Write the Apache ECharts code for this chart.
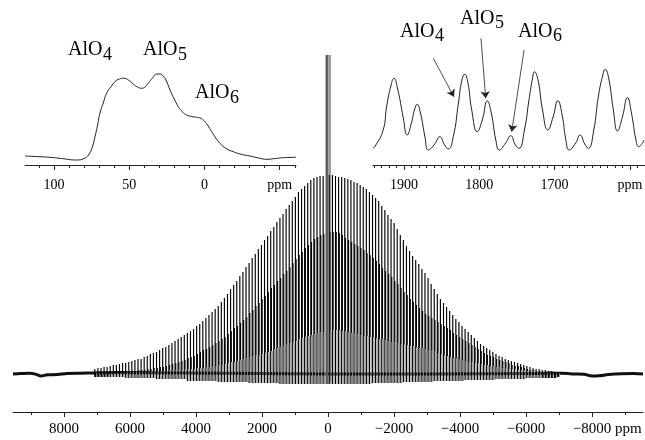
<!DOCTYPE html>
<html><head><meta charset="utf-8">
<script src="https://cdn.jsdelivr.net/npm/echarts@6/dist/echarts.min.js"></script>
<style>html,body{margin:0;padding:0;background:#fff}#c{width:645px;height:440px}</style>
</head><body><div id="c"></div>
<script>
// ---------- main spinning-sideband spectrum ----------
const sidebandSpacingPpm = 93.5;               // spinning rate expressed in ppm
const siteShiftPpm = [53.5, 31.7, 5.0];         // AlO4, AlO5, AlO6
const firstSidebandOrder = 75;                  // order of first (left-most) entry
const alo4Heights = [
  5,6,6,7,7,8,9,9,10,11,
  11,12,13,14,15,15,17,18,20,21,
  22,24,26,27,29,31,33,35,37,39,
  41,43,45,48,50,53,56,59,62,65,
  68,72,76,80,85,89,93,98,102,107,
  111,116,120,125,129,134,138,143,147,152,
  156,160,165,169,173,177,182,185,188,191,
  194,196,197,198,198,319,199,199,198,197,
  197,196,195,194,192,191,189,187,185,182,
  179,176,173,168,164,159,155,151,145,139,
  134,128,123,118,114,110,105,101,96,90,
  85,80,75,71,67,63,59,55,52,48,
  45,42,39,36,33,30,28,26,24,22,
  20,18,17,15,14,13,12,11,10,9,
  8,7,6,5,5,4,4,3,3,2,
  2];
const alo5Heights = [
  1,1,1,1,1,2,2,2,2,2,
  3,3,3,3,4,4,4,5,5,6,
  6,7,7,8,9,10,11,12,13,14,
  16,17,18,20,22,24,25,27,29,31,
  33,35,37,40,43,46,48,51,54,57,
  61,64,68,71,75,78,82,86,89,93,
  96,100,103,107,111,115,119,122,126,129,
  132,135,137,139,140,319,142,142,142,141,
  139,136,134,132,130,128,126,124,121,119,
  116,113,110,106,103,100,97,93,90,86,
  82,79,75,72,69,66,63,60,58,56,
  54,52,50,48,46,44,41,39,37,35,
  33,31,29,27,25,23,21,19,18,17,
  15,14,13,12,11,9,8,8,7,6,
  5,4,4,3,3,2,2,2,1,1,
  1];
const alo6Heights = [
  1,1,1,1,1,1,1,1,1,1,
  2,2,2,2,2,2,2,2,3,3,
  3,3,3,3,4,4,4,4,4,5,
  5,5,5,6,6,6,7,7,8,8,
  9,9,10,11,12,12,13,14,15,16,
  17,18,19,19,20,21,22,23,25,26,
  27,28,30,31,32,33,35,36,37,38,
  39,40,41,42,42,319,43,44,44,44,
  43,43,42,41,41,40,39,38,38,37,
  37,36,35,35,34,33,32,32,31,30,
  30,29,28,28,27,26,26,25,24,24,
  23,21,20,19,18,17,16,16,15,14,
  13,12,12,11,11,10,9,9,8,8,
  7,7,6,6,5,5,5,4,4,4,
  3,3,3,2,2,2,2,2,1,1,
  1];
const dipDepths = [
  -3,-3,-3,-3,-3,-3,-3,-3,-3,-3,
  -4,-4,-4,-4,-4,-4,-4,-4,-4,-4,
  -5,-5,-5,-5,-5,-5,-5,-5,-5,-5,
  -7,-7,-7,-7,-7,-7,-7,-7,-7,-7,
  -8,-8,-8,-8,-8,-8,-8,-8,-8,-8,
  -9,-9,-9,-9,-9,-9,-9,-9,-9,-9,
  -10,-10,-10,-10,-10,-10,-10,-10,-10,-10,
  -10,-10,-10,-10,-10,-10,-10,-10,-10,-10,
  -10,-10,-10,-10,-10,-10,-10,-10,-10,-10,
  -9,-9,-9,-9,-9,-9,-9,-9,-9,-9,
  -8,-8,-8,-8,-8,-8,-8,-8,-8,-8,
  -7,-7,-7,-7,-7,-7,-7,-7,-7,-7,
  -6,-6,-6,-6,-6,-6,-6,-6,-6,-6,
  -5,-5,-5,-5,-5,-5,-5,-5,-5,-5,
  -4,-4,-4,-4,-4,-4,-4,-4,-4,-4,
  -3];
const carrierPpm = [-60];
const carrierHeight = [319];
const baselinePpm   = [9545, 9300, 9050, 8850, 8700, 8500, 8200, 7900, 7500, 7100, 6800, 6400, 0, -6400, -6700, -6900, -7100, -7400, -7750, -8000, -8200, -8500, -8900, -9250, -9545];
const baselineValue = [0, 0.5, 0.8, -0.2, -2, -0.8, -0.5, 0.6, 0.8, 1, 1.3, 1.5, 0, 0.5, 1, 0.8, 0.8, 0, -0.3, -2, -1.8, -0.6, 0.2, 0.4, 0];
const mainTicks = [8000, 6000, 4000, 2000, 0, -2000, -4000, -6000, -8000];
const mainMinorTicks = [9000, 7000, 5000, 3000, 1000, -1000, -3000, -5000, -7000, -9000];

// ---------- left inset: centre band ----------
const leftInsetPpm   = [119.2,110,102.6,95,84.9,80,77,74.5,72.7,71,69.4,67,65,62,59.4,56.5,53.5,50.5,47.3,44.5,41.7,39.5,37.3,34.5,31.7,29.5,27.4,25,22.9,20,17.4,14.5,11.8,8.5,5.2,3,0.8,-2,-4.8,-8,-11.4,-15,-19.1,-25,-30.2,-36,-41.3,-47,-52.3,-60.8];
const leftInsetValue = [9,8.3,7.7,6.5,5,6.5,10,18,28.3,40,52,63,71.7,78.5,83.3,86,86.7,85,81,78,76.7,78,81.7,87,91,91,89,83,75,66,58.3,53,50,48.5,47.7,47,45,40,33.3,26,20,16,13.3,10.5,9,7,5.7,6.5,7.3,7.7];
const leftTicks = [100, 50, 0, -50];
const leftMinorTicks = [110, 90, 80, 70, 60, 40, 30, 20, 10, -10, -20, -30, -40, -60];

// ---------- right inset: sidebands near 1800 ppm ----------
const rightInsetPpm   = [1941,1938.5,1927.5,1923,1917,1913.3,1908,1901,1895.6,1890,1886,1882.3,1878,1872,1867.7,1860,1852.2,1846,1841.1,1834,1828,1823,1819.3,1815,1810,1802.6,1796,1789.3,1784,1778,1773.4,1765,1758.2,1752,1747.2,1740,1734,1729,1726.8,1722,1716,1709,1702,1695.7,1690,1685,1680.7,1672,1666.1,1660,1655.1,1648,1642,1636,1632.9,1628,1622,1616.5,1610,1603.3,1598,1592,1588.6,1581];
const rightInsetValue = [17,18.3,35,58,80,86.7,75,48,30,42,55,60.7,52,28,15,20,28.3,20,16,30,60,85,90.7,82,55,33.3,45,64,52,25,15,22,29.3,20,16.7,35,65,88,93.3,85,55,35,48,64.3,50,25,15,22,30,21,16.7,35,68,90,95.7,86,55,34,48,67.3,52,25,18.3,25];
const rightTicks = [1900, 1800, 1700, 1600];
const rightMinorTicks = [1940,1930,1920,1910,1890,1880,1870,1860,1850,1840,1830,1820,1810,1790,1780,1770,1760,1750,1740,1730,1720,1710,1690,1680,1670,1660,1650,1640,1630,1620,1610,1590];

// ---------- build series data ----------
const spectrumLines = [];
alo6Heights.forEach((h, i) => {
  const base = (firstSidebandOrder - i) * sidebandSpacingPpm;
  spectrumLines.push([base + siteShiftPpm[2], h, dipDepths[i], 2]);
});
alo5Heights.forEach((h, i) => {
  const base = (firstSidebandOrder - i) * sidebandSpacingPpm;
  const bottom = alo6Heights[i] < h ? alo6Heights[i] : dipDepths[i];
  spectrumLines.push([base + siteShiftPpm[1], h, bottom, 1]);
});
alo4Heights.forEach((h, i) => {
  const base = (firstSidebandOrder - i) * sidebandSpacingPpm;
  spectrumLines.push([base + siteShiftPpm[0], h, dipDepths[i], 0]);
});
carrierPpm.forEach((p, i) => spectrumLines.push([p, carrierHeight[i], -8, 3]));

const baselineData = baselinePpm.map((p, i) => [p, baselineValue[i]]);
const leftData = leftInsetPpm.map((p, i) => [p, leftInsetValue[i]]);
const rightData = rightInsetPpm.map((p, i) => [p, rightInsetValue[i]]);

const serif = 'Liberation Serif';
const minus = v => (v < 0 ? '\u2212' + Math.abs(v) : String(v));

function majorAxis(gridIndex, min, max, ticks, fontSize, margin, fmt) {
  return {
    type: 'value', gridIndex, min, max, inverse: true, position: 'bottom',
    axisLine: { show: true, onZero: false, lineStyle: { color: '#222', width: 1 } },
    axisTick: { show: true, inside: false, length: 5, customValues: ticks, lineStyle: { color: '#222', width: 1 } },
    axisLabel: { show: true, customValues: ticks, formatter: fmt, fontFamily: serif, fontSize, color: '#000', margin },
    splitLine: { show: false }, minorTick: { show: false }
  };
}
function minorAxis(gridIndex, min, max, ticks) {
  return {
    type: 'value', gridIndex, min, max, inverse: true, position: 'bottom',
    axisLine: { show: false, onZero: false },
    axisTick: { show: true, inside: false, length: 3, customValues: ticks, lineStyle: { color: '#222', width: 1 } },
    axisLabel: { show: false }, splitLine: { show: false }
  };
}
function hiddenY(gridIndex, min, max) {
  return { type: 'value', gridIndex, min, max, show: false, splitLine: { show: false } };
}

function aloLabel(x, y, sub) {
  return [
    { type: 'text', x, y, silent: true,
      style: { text: 'AlO', fontFamily: serif, fontSize: 20, fill: '#000', align: 'left', verticalAlign: 'middle' } },
    { type: 'text', x: x + 35, y: y + 5, silent: true,
      style: { text: sub, fontFamily: serif, fontSize: 18, fill: '#000', align: 'left', verticalAlign: 'middle' } }
  ];
}

const chart = echarts.init(document.getElementById('c'), null, { renderer: 'canvas' });
chart.setOption({
  animation: false,
  backgroundColor: '#fff',
  grid: [
    { left: 13, top: 55, width: 630, height: 357, containLabel: false, outerBoundsMode: 'none' },
    { left: 25, top: 30, width: 271, height: 135, containLabel: false, outerBoundsMode: 'none' },
    { left: 373, top: 30, width: 272, height: 135, containLabel: false, outerBoundsMode: 'none' }
  ],
  xAxis: [
    majorAxis(0, -9545, 9545, mainTicks, 15, 10, minus),
    minorAxis(0, -9545, 9545, mainMinorTicks),
    majorAxis(1, -60.8, 119.2, leftTicks, 14, 13, v => (v === -50 ? 'ppm' : String(v))),
    minorAxis(1, -60.8, 119.2, leftMinorTicks),
    majorAxis(2, 1580, 1941, rightTicks, 14, 13, v => (v === 1600 ? 'ppm' : String(v))),
    minorAxis(2, 1580, 1941, rightMinorTicks)
  ],
  yAxis: [hiddenY(0, -38, 319), hiddenY(1, 0, 135), hiddenY(2, 0, 135)],
  series: [
    {
      type: 'line', xAxisIndex: 0, yAxisIndex: 0, data: baselineData, smooth: 0.4,
      symbol: 'none', lineStyle: { color: '#111', width: 3 }, z: 1, silent: true
    },
    {
      type: 'custom', xAxisIndex: 0, yAxisIndex: 0, data: spectrumLines, z: 2, silent: true,
      encode: { x: 0, y: [1, 2] },
      renderItem(params, api) {
        const p = api.value(0);
        const t = api.coord([p, api.value(1)]);
        const b = api.coord([p, api.value(2)]);
        const kind = api.value(3);
        const tall = api.value(1) > 300;
        let stroke = '#000', w = 1.15;
        if (kind === 2) { stroke = '#8a8a8a'; w = 1; }
        if (tall) { stroke = '#5c5c5c'; w = 1.4; }
        if (kind === 3) { stroke = '#333'; w = 1; }
        return { type: 'line', shape: { x1: t[0], y1: t[1], x2: t[0], y2: b[1] }, style: { stroke, lineWidth: w } };
      }
    },
    {
      type: 'line', xAxisIndex: 2, yAxisIndex: 1, data: leftData, smooth: 0.5,
      symbol: 'none', lineStyle: { color: '#222', width: 1 }, silent: true
    },
    {
      type: 'line', xAxisIndex: 4, yAxisIndex: 2, data: rightData, smooth: 0.5,
      symbol: 'none', lineStyle: { color: '#222', width: 1 }, silent: true,
      markLine: {
        silent: true, symbol: ['none', 'arrow'], symbolSize: 7, label: { show: false },
        lineStyle: { color: '#222', width: 0.8, type: 'solid' },
        data: [
          [{ coord: [1861, 106.7] }, { coord: [1833.6, 68.3] }],
          [{ coord: [1797.7, 126.7] }, { coord: [1791.4, 66.7] }],
          [{ coord: [1740.5, 115] }, { coord: [1756.9, 33.3] }]
        ]
      }
    }
  ],
  graphic: [
    ...aloLabel(68, 50, '4'),
    ...aloLabel(143, 50, '5'),
    ...aloLabel(195, 93, '6'),
    ...aloLabel(400, 31.5, '4'),
    ...aloLabel(460, 18.5, '5'),
    ...aloLabel(518, 31.5, '6'),
    { type: 'text', x: 615, y: 422, silent: true,
      style: { text: 'ppm', fontFamily: serif, fontSize: 15, fill: '#000', align: 'left', verticalAlign: 'top' } }
  ]
});
</script></body></html>
